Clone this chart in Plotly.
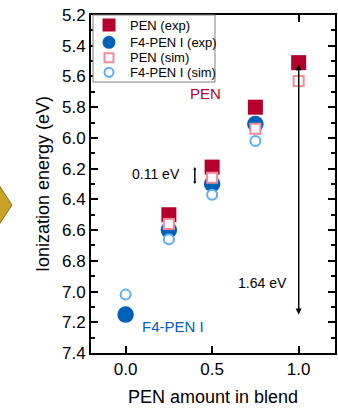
import plotly.graph_objects as go

pen_exp_x = [0.25, 0.5, 0.75, 1.0]
pen_exp_y = [6.50, 6.19, 5.80, 5.51]
f4_exp_x = [0.0, 0.25, 0.5, 0.75]
f4_exp_y = [7.15, 6.60, 6.30, 5.91]
pen_sim_x = [0.25, 0.5, 0.75, 1.0]
pen_sim_y = [6.56, 6.26, 5.94, 5.63]
f4_sim_x = [0.0, 0.25, 0.5, 0.75]
f4_sim_y = [7.02, 6.66, 6.37, 6.02]

series_names = ["PEN (exp)", "F4-PEN I (exp)", "PEN (sim)", "F4-PEN I (sim)"]

x_ticks = [0.0, 0.5, 1.0]
x_tick_labels = ["0.0", "0.5", "1.0"]
y_ticks = [5.2, 5.4, 5.6, 5.8, 6.0, 6.2, 6.4, 6.6, 6.8, 7.0, 7.2, 7.4]
y_tick_labels = ["5.2", "5.4", "5.6", "5.8", "6.0", "6.2", "6.4", "6.6", "6.8", "7.0", "7.2", "7.4"]

RED = "#B5002B"
BLUE = "#0061B8"
PINK = "#F28A9A"
LBLUE = "#5AAEF5"
FONT = "Liberation Sans, Arial"

styles = [
    dict(symbol="square", size=15, color=RED, line=dict(width=0)),
    dict(symbol="circle", size=16.5, color=BLUE, line=dict(width=0)),
    dict(symbol="square", size=10, color="white", line=dict(width=2, color=PINK)),
    dict(symbol="circle", size=10, color="white", line=dict(width=2, color=LBLUE)),
]
data = [(pen_exp_x, pen_exp_y), (f4_exp_x, f4_exp_y), (pen_sim_x, pen_sim_y), (f4_sim_x, f4_sim_y)]

fig = go.Figure()
for (xs, ys), name, st in zip(data, series_names, styles):
    fig.add_trace(go.Scatter(x=xs, y=ys, mode="markers", name=name, marker=st, showlegend=False))

# 1.64 eV arrow (double headed)
fig.add_annotation(x=1.0, y=5.52, ax=1.0, ay=7.15, xref="x", yref="y", axref="x", ayref="y",
                   showarrow=True, arrowhead=2, arrowsize=1, arrowwidth=1.2, arrowcolor="black", text="")
fig.add_annotation(x=1.0, y=7.15, ax=1.0, ay=5.52, xref="x", yref="y", axref="x", ayref="y",
                   showarrow=True, arrowhead=2, arrowsize=1, arrowwidth=1.2, arrowcolor="black", text="")
fig.add_annotation(x=0.79, y=6.945, text="1.64 eV", showarrow=False,
                   font=dict(size=14, color="black"))

# 0.11 eV small arrow
fig.add_annotation(x=0.40, y=6.19, ax=0.40, ay=6.30, xref="x", yref="y", axref="x", ayref="y",
                   showarrow=True, arrowhead=2, arrowsize=0.6, arrowwidth=1, arrowcolor="black", text="")
fig.add_annotation(x=0.40, y=6.30, ax=0.40, ay=6.19, xref="x", yref="y", axref="x", ayref="y",
                   showarrow=True, arrowhead=2, arrowsize=0.6, arrowwidth=1, arrowcolor="black", text="")
fig.add_annotation(x=0.173, y=6.235, text="0.11 eV", showarrow=False,
                   font=dict(size=14, color="black"))

fig.add_annotation(x=0.46, y=5.71, text="PEN", showarrow=False, font=dict(size=15, color=RED))
fig.add_annotation(x=0.275, y=7.23, text="F4-PEN I", showarrow=False, font=dict(size=15, color=BLUE))

# cropped yellow shape at left edge
fig.add_shape(type="path", xref="paper", yref="paper",
              path="M -0.324 0.438 L -0.38 0.50 L -0.38 0.376 Z",
              fillcolor="#C9A227", line=dict(color="#8A6A10", width=1), layer="above")

# legend box (drawn as a key inside the plot, top-left)
fig.add_shape(type="rect", xref="paper", yref="paper", x0=0.0082, x1=0.5082, y0=0.8018, y1=1.0,
              fillcolor="white", line=dict(color="#808080", width=1), layer="above")
row_y = [0.9704, 0.9192, 0.8737, 0.8305]
key_x = 0.0738
for st, name, ry in zip(styles, series_names, row_y):
    half = 6.5 if st["size"] > 12 else 4.5
    lw = st["line"].get("width", 0)
    fig.add_shape(type="rect" if st["symbol"] == "square" else "circle",
                  xref="paper", yref="paper", xsizemode="pixel", ysizemode="pixel",
                  xanchor=key_x, yanchor=ry, x0=-half, x1=half, y0=-half, y1=half,
                  fillcolor=st["color"],
                  line=dict(width=lw, color=st["line"].get("color", st["color"])) if lw else dict(width=0),
                  layer="above")
    fig.add_annotation(x=0.1516, y=ry, xref="paper", yref="paper", xanchor="left", yanchor="middle",
                       text=name, showarrow=False, font=dict(size=13, color="black"))

axis_common = dict(showline=True, linewidth=1.8, linecolor="black", mirror="ticks",
                   ticks="inside", ticklen=7, tickwidth=1.8, tickcolor="black",
                   showgrid=False, zeroline=False, automargin=False,
                   tickfont=dict(size=17, color="black", family=FONT))

fig.update_xaxes(range=[-0.2, 1.21], tickvals=x_ticks, ticktext=x_tick_labels,
                 title=dict(text="PEN amount in blend", font=dict(size=18, color="black"), standoff=12),
                 **axis_common)
fig.update_yaxes(range=[7.4, 5.2], tickvals=y_ticks, ticktext=y_tick_labels,
                 minor=dict(ticks="inside", ticklen=4, tickwidth=1.5, tickcolor="black", dtick=0.1),
                 title=dict(text="Ionization energy (eV)", font=dict(size=18, color="black"), standoff=8),
                 **axis_common)

fig.update_layout(
    width=338, height=411,
    margin=dict(l=91, r=3, t=15, b=58),
    plot_bgcolor="white", paper_bgcolor="white",
    font=dict(family=FONT, color="black"),
    showlegend=False,
)

fig.write_html("out.html", config={"displayModeBar": False},
               post_script="document.body.style.margin='0';document.body.style.overflow='hidden';")
